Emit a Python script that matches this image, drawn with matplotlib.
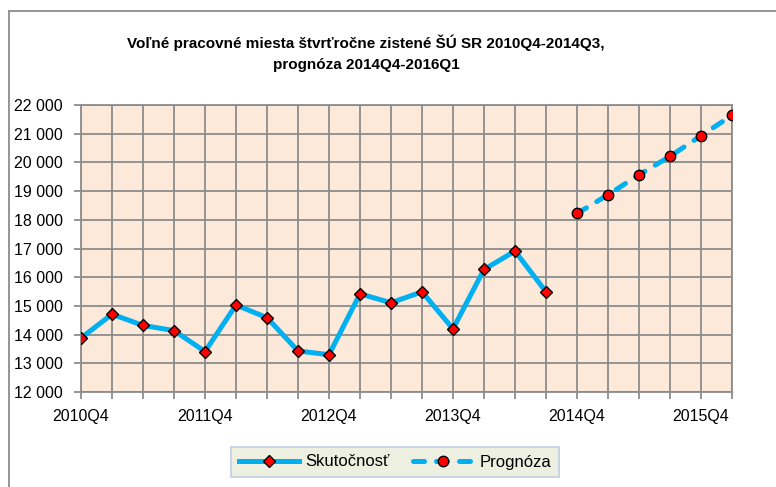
import matplotlib.pyplot as plt
from matplotlib.lines import Line2D

plt.rcParams['font.family'] = ['Liberation Sans Narrow', 'Liberation Sans', 'DejaVu Sans']

# štvrťroky 2010Q4 - 2016Q1
quarters = ['2010Q4', '2011Q1', '2011Q2', '2011Q3',
            '2011Q4', '2012Q1', '2012Q2', '2012Q3',
            '2012Q4', '2013Q1', '2013Q2', '2013Q3',
            '2013Q4', '2014Q1', '2014Q2', '2014Q3',
            '2014Q4', '2015Q1', '2015Q2', '2015Q3',
            '2015Q4', '2016Q1']
# zistené hodnoty 2010Q4-2014Q3
skutocnost = [13880, 14710, 14320, 14140, 13410, 15030, 14590, 13430,
              13300, 15420, 15110, 15490, 14200, 16270, 16910, 15490]
# prognóza 2014Q4-2016Q1
prognoza = [18220, 18870, 19570, 20210, 20930, 21640]
y_ticks = list(range(12000, 22001, 1000))

blue = '#00B0F0'
grid_col = '#8C8C8C'

fig = plt.figure(figsize=(7.76, 4.87), dpi=100)
ax = fig.add_axes([81/776, 1 - 392/487, (732 - 81)/776, (392 - 105)/487])
ax.set_facecolor('#FCE9DA')

x_act = list(range(len(skutocnost)))
x_prog = list(range(len(skutocnost), len(skutocnost) + len(prognoza)))

ax.plot(x_act, skutocnost, color=blue, lw=3.6, solid_joinstyle='round',
        marker='D', markersize=6.3, markerfacecolor='#FF0000',
        markeredgecolor='black', markeredgewidth=1.0, zorder=3,
        label='Skutočnosť')
ax.plot(x_prog, prognoza, color=blue, lw=3.6, dashes=(2.2, 2.4),
        dash_capstyle='round', marker='o', markersize=7.5,
        markerfacecolor='#FF0000', markeredgecolor='black',
        markeredgewidth=1.0, zorder=3, label='Prognóza')

ax.set_xlim(0, len(quarters) - 1)
ax.set_ylim(12000, 22000)
ax.set_yticks(y_ticks)
ax.set_yticklabels(['{:,}'.format(v).replace(',', ' ') for v in y_ticks])
ax.set_xticks(range(len(quarters)))
ax.set_xticklabels([q if i % 4 == 0 else '' for i, q in enumerate(quarters)])

ax.grid(True, color=grid_col, lw=1.3)
ax.set_axisbelow(True)
for s in ax.spines.values():
    s.set_color(grid_col)
    s.set_linewidth(1.3)
ax.tick_params(axis='both', direction='out', length=5, width=1.3,
               color=grid_col, labelsize=11.5, labelcolor='black')
ax.tick_params(axis='x', pad=7)
ax.tick_params(axis='y', pad=8)

fig.text(366/776, 1 - 43/487,
         'Voľné pracovné miesta štvrťročne zistené ŠÚ SR 2010Q4-2014Q3,',
         ha='center', va='center', fontsize=11, fontweight='bold')
fig.text(366/776, 1 - 65/487, 'prognóza 2014Q4-2016Q1',
         ha='center', va='center', fontsize=11, fontweight='bold')

# rámček grafu
fig.add_artist(Line2D([9/776, 1], [1 - 11/487, 1 - 11/487],
                      transform=fig.transFigure, color='#8C8C8C', lw=1.3))
fig.add_artist(Line2D([9/776, 9/776], [0, 1 - 11/487],
                      transform=fig.transFigure, color='#8C8C8C', lw=1.3))

leg = fig.legend(loc='center', bbox_to_anchor=(395/776, 1 - 462/487), ncol=2,
                 fontsize=12, handlelength=3.6, columnspacing=1.4,
                 handletextpad=0.4, borderpad=0.45, fancybox=False,
                 facecolor='#EDEFE1', edgecolor='#C5D1E5', framealpha=1)
leg.get_frame().set_linewidth(1.3)

fig.savefig('out.png', dpi=100)
